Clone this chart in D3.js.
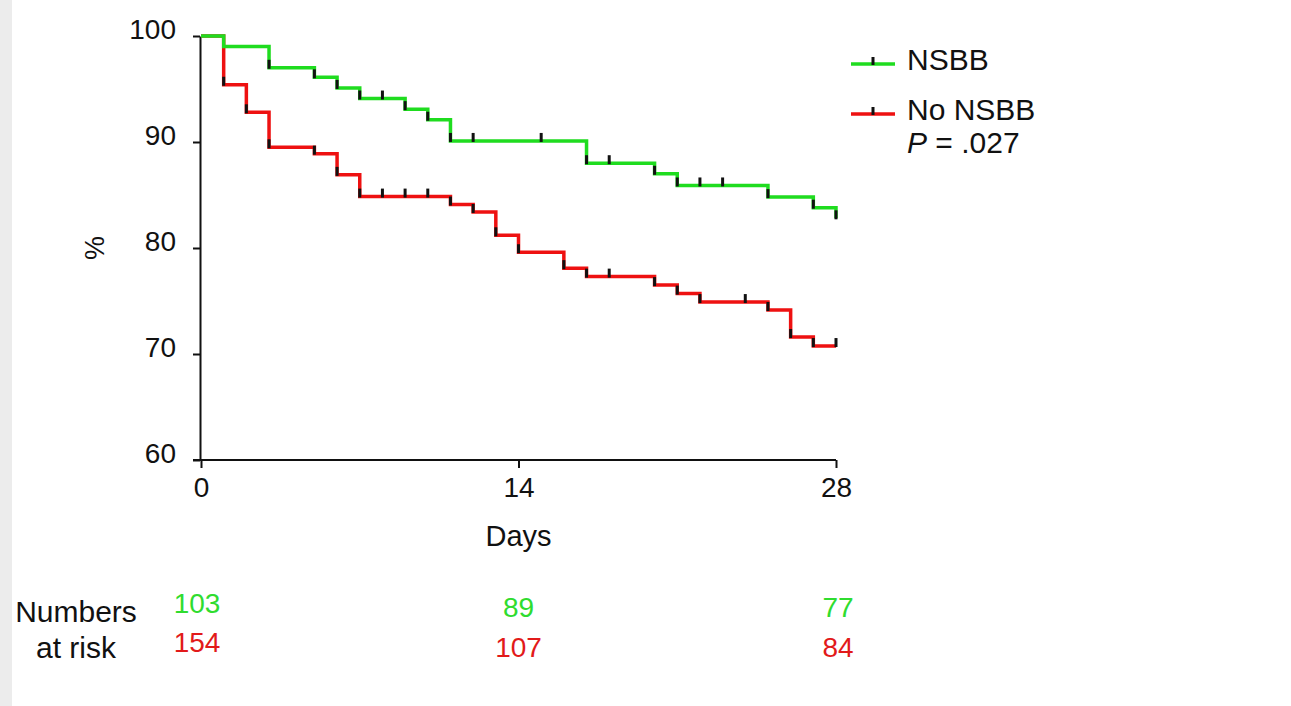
<!DOCTYPE html>
<html lang="en">
<head>
<meta charset="utf-8"/>
<title>NSBB survival</title>
<script src="https://d3js.org/d3.v7.min.js"></script>
<style>
  body { margin: 0; background: #fff; }
  svg { display: block; font-family: "Liberation Sans", Arial, Helvetica, sans-serif; }
  .axis path, .axis line { stroke: #111; stroke-width: 2px; }
  .axis text { font-size: 28px; fill: #111; font-family: "Liberation Sans", Arial, sans-serif; }
  .curve { fill: none; stroke-width: 3.5px; }
  .censor { stroke: #111; stroke-width: 3px; }
</style>
</head>
<body>
<svg id="chart" width="1291" height="706"></svg>
<script>
// survival curves (day, %)
var nsbbDays = [0, 1, 3, 5, 6, 7, 9, 10, 11, 17, 20, 21, 25, 27, 28];
var nsbbPct  = [100, 99.0, 97.0, 96.1, 95.1, 94.1, 93.1, 92.1, 90.1, 88.0, 87.0, 85.9, 84.8, 83.8, 82.8];
var nsbbMarks = [3, 5, 6, 7, 8, 9, 10, 11, 12, 15, 17, 18, 20, 21, 22, 23, 25, 27, 28];

var noDays = [0, 1, 2, 3, 5, 6, 7, 11, 12, 13, 14, 16, 17, 20, 21, 22, 25, 26, 27, 28];
var noPct  = [100, 95.4, 92.8, 89.5, 88.9, 86.9, 84.85, 84.1, 83.4, 81.2, 79.6, 78.1, 77.3, 76.5, 75.7, 74.9, 74.15, 71.6, 70.75, 70.75];
var noMarks = [1, 2, 3, 5, 6, 7, 8, 9, 10, 11, 12, 13, 14, 16, 17, 18, 20, 21, 22, 24, 25, 26, 27, 28];

var yTicks = [60, 70, 80, 90, 100];
var xTicks = [0, 14, 28];

var riskDays = [0, 14, 28];
var riskNsbb = [103, 89, 77];
var riskNo   = [154, 107, 84];

var green = "#1fdc1f", red = "#ee1111";

var svg = d3.select("#chart");

// grey strip at left edge
svg.append("rect").attr("x", 0).attr("y", 0).attr("width", 12).attr("height", 706).attr("fill", "#ececec");

var x = d3.scaleLinear().domain([0, 28]).range([201, 836]);
var y = d3.scaleLinear().domain([60, 100]).range([460, 36]);

// y axis
var yAxis = svg.append("g")
    .attr("class", "axis")
    .attr("transform", "translate(200,0)")
    .call(d3.axisLeft(y).tickValues(yTicks).tickSize(7).tickSizeOuter(0).tickPadding(17));
yAxis.selectAll("text").attr("dy", 2);

// x axis
var xAxis = svg.append("g")
    .attr("class", "axis")
    .attr("transform", "translate(0,460)")
    .call(d3.axisBottom(x).tickValues(xTicks).tickSize(8).tickSizeOuter(0).tickPadding(9));
xAxis.select(".domain").attr("d", "M" + (x(0) - 8) + ",0H" + x(28));

svg.append("text")
    .attr("x", x(14)).attr("y", 546)
    .attr("text-anchor", "middle")
    .attr("font-size", 29).attr("fill", "#111")
    .text("Days");

svg.append("text")
    .attr("transform", "translate(104,248) rotate(-90)")
    .attr("text-anchor", "middle")
    .attr("font-size", 27).attr("fill", "#111")
    .text("%");

// curves
var line = d3.line().curve(d3.curveStepAfter)
    .x(function(d) { return x(d[0]); })
    .y(function(d) { return y(d[1]); });

function stepAt(days, pct, t) {
  var v = pct[0];
  for (var i = 0; i < days.length; i++) if (days[i] <= t) v = pct[i];
  return v;
}

function drawCurve(days, pct, marks, color) {
  svg.append("path")
    .attr("class", "curve")
    .attr("stroke", color)
    .attr("d", line(d3.zip(days, pct)));
  svg.append("g").selectAll("line")
    .data(marks)
    .enter().append("line")
      .attr("class", "censor")
      .attr("x1", function(d) { return x(d); })
      .attr("x2", function(d) { return x(d); })
      .attr("y1", function(d) { return y(stepAt(days, pct, d)) + 1; })
      .attr("y2", function(d) { return y(stepAt(days, pct, d)) - 8; });
}

drawCurve(noDays, noPct, noMarks, red);
drawCurve(nsbbDays, nsbbPct, nsbbMarks, green);

// legend
var legend = [{name: "NSBB", color: green, y: 64}, {name: "No NSBB", color: red, y: 114}];
var lg = svg.append("g").selectAll("g").data(legend).enter().append("g");
lg.append("line")
  .attr("x1", 851).attr("x2", 895)
  .attr("y1", function(d) { return d.y; }).attr("y2", function(d) { return d.y; })
  .attr("stroke", function(d) { return d.color; }).attr("stroke-width", 3.5);
lg.append("line")
  .attr("class", "censor")
  .attr("x1", 873).attr("x2", 873)
  .attr("y1", function(d) { return d.y + 1; }).attr("y2", function(d) { return d.y - 7; });
lg.append("text")
  .attr("x", 907).attr("y", function(d) { return d.y + 6; })
  .attr("font-size", 30).attr("fill", "#111")
  .text(function(d) { return d.name; });

var pText = svg.append("text").attr("x", 907).attr("y", 153).attr("font-size", 30).attr("fill", "#111");
pText.append("tspan").attr("font-style", "italic").text("P");
pText.append("tspan").text(" = .027");

// numbers at risk
svg.append("text").attr("x", 76).attr("y", 622).attr("text-anchor", "middle")
  .attr("font-size", 30).attr("fill", "#111").text("Numbers");
svg.append("text").attr("x", 76).attr("y", 658).attr("text-anchor", "middle")
  .attr("font-size", 30).attr("fill", "#111").text("at risk");

var riskOffset = [-4, 0, 2];
svg.append("g").selectAll("text")
  .data(riskNsbb).enter().append("text")
    .attr("x", function(d, i) { return x(riskDays[i]) + riskOffset[i]; })
    .attr("y", function(d, i) { return i === 0 ? 613 : 617; })
    .attr("text-anchor", "middle")
    .attr("font-size", 28).attr("fill", "#2fdc2f")
    .text(function(d) { return d; });
svg.append("g").selectAll("text")
  .data(riskNo).enter().append("text")
    .attr("x", function(d, i) { return x(riskDays[i]) + riskOffset[i]; })
    .attr("y", function(d, i) { return i === 0 ? 652 : 657; })
    .attr("text-anchor", "middle")
    .attr("font-size", 28).attr("fill", "#e21a1a")
    .text(function(d) { return d; });
</script>
</body>
</html>
